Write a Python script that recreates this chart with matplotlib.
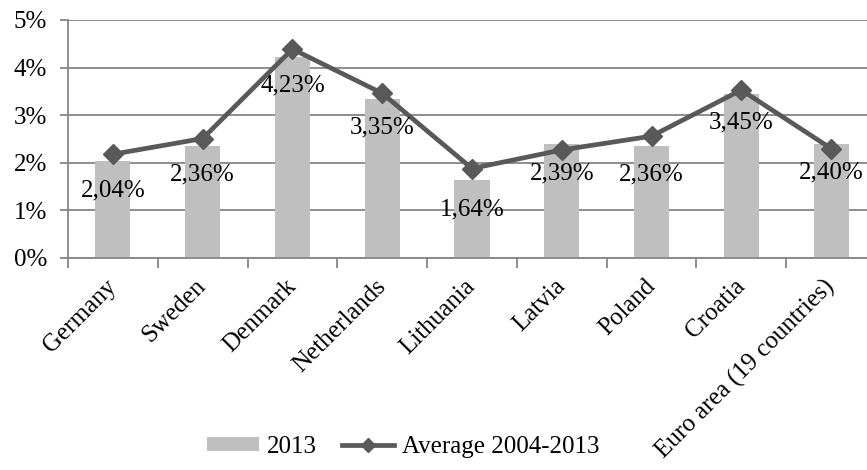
import numpy as np
import matplotlib
matplotlib.use("Agg")
import matplotlib.pyplot as plt
from matplotlib.ticker import FuncFormatter

# data
countries = ['Germany', 'Sweden', 'Denmark', 'Netherlands', 'Lithuania',
             'Latvia', 'Poland', 'Croatia', 'Euro area (19 countries)']
val_2013 = [2.04, 2.36, 4.23, 3.35, 1.64, 2.39, 2.36, 3.45, 2.40]
avg_0413 = [2.18, 2.51, 4.39, 3.46, 1.88, 2.27, 2.56, 3.53, 2.30]
y_ticks = [0, 1, 2, 3, 4, 5]

plt.rcParams['font.family'] = ['Liberation Serif', 'DejaVu Serif']
plt.rcParams['font.size'] = 18

fig = plt.figure(figsize=(8.67, 4.70), dpi=100)
ax = fig.add_axes([68 / 867, 212 / 470, 808 / 867, 238 / 470])

x = np.arange(len(countries))
bars = ax.bar(x, val_2013, width=0.39, color='#bfbfbf', label='2013', zorder=2)
line, = ax.plot(x, avg_0413, color='#595959', lw=3.4, marker='D',
                markersize=10, label='Average 2004-2013', zorder=3)

# data labels for 2013 bars, sitting just under the bar top
for xi, v in zip(x, val_2013):
    ax.annotate(f'{v:.2f}%'.replace('.', ','), (xi, v), xytext=(0, -21),
                textcoords='offset points', ha='center', va='center',
                color='black', zorder=4)

ax.set_xlim(-0.5, len(countries) - 0.5)
ax.set_ylim(0, 5)
ax.set_yticks(y_ticks)
ax.yaxis.set_major_formatter(FuncFormatter(lambda v, p: f'{v:.0f}%'))
ax.grid(axis='y', color='#868686', lw=1.3, zorder=0)
ax.set_axisbelow(True)

# category ticks at the boundaries, labels at the centres
ax.set_xticks(np.arange(len(countries) + 1) - 0.5)
ax.set_xticklabels([])
ax.set_xticks(x, minor=True)
ax.set_xticklabels(countries, minor=True, rotation=45, ha='right',
                   rotation_mode='anchor', va='center')
ax.tick_params(axis='x', which='minor', length=0, pad=18)
ax.tick_params(axis='x', which='major', length=7, width=1.3, color='#868686')
ax.tick_params(axis='y', length=6, width=1.3, color='#868686', pad=9)

for s in ['top', 'right']:
    ax.spines[s].set_visible(False)
for s in ['left', 'bottom']:
    ax.spines[s].set_color('#868686')
    ax.spines[s].set_linewidth(1.3)

fig.legend([bars, line], ['2013', 'Average 2004-2013'], loc='center',
           bbox_to_anchor=(403 / 867, 1 - 447 / 470), ncol=2,
           frameon=False, handlelength=2.1, handleheight=0.5, markerscale=0.7,
           handletextpad=0.3, columnspacing=1.0, borderaxespad=0)

fig.savefig('out.png', dpi=100)
